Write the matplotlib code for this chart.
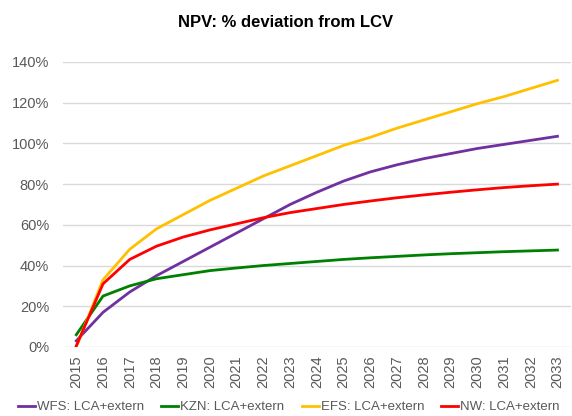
import matplotlib.pyplot as plt
from matplotlib.ticker import FuncFormatter

years = list(range(2015, 2034))

wfs = [3, 17, 27, 35, 42, 49, 56, 63, 70, 76, 81.5, 86, 89.5, 92.5, 95, 97.5, 99.5, 101.5, 103.5]
kzn = [6, 25, 30, 33.5, 35.5, 37.5, 38.8, 40, 41, 42, 43, 43.8, 44.5, 45.2, 45.8, 46.3, 46.8, 47.2, 47.6]
efs = [0, 33, 48, 58, 65, 72, 78, 84, 89, 94, 99, 103, 107.5, 111.5, 115.5, 119.5, 123, 127, 131]
nw = [0.5, 31, 43, 49.5, 54, 57.5, 60.5, 63.5, 66, 68, 70, 71.7, 73.3, 74.7, 76, 77.2, 78.3, 79.2, 80]

series = [
    ("WFS: LCA+extern", wfs, "#7030A0"),
    ("KZN: LCA+extern", kzn, "#008000"),
    ("EFS: LCA+extern", efs, "#FFC000"),
    ("NW: LCA+extern", nw, "#FF0000"),
]

plt.rcParams["font.family"] = ["Liberation Sans", "DejaVu Sans"]
text_color = "#595959"

fig = plt.figure(figsize=(5.72, 4.16), dpi=100)
ax = fig.add_axes([0.110, 0.166, 0.888, 0.685])

for name, vals, color in series:
    ax.plot(years, [v / 100 for v in vals], color=color, lw=2, label=name)

ax.set_xlim(2014.5, 2033.5)
ax.set_ylim(0, 1.4)
ax.set_yticks([i * 0.2 for i in range(8)])
ax.yaxis.set_major_formatter(FuncFormatter(lambda v, _: f"{v * 100:.0f}%"))
ax.set_xticks(years)
ax.set_xticklabels([str(y) for y in years], rotation=90)
ax.tick_params(length=0, labelsize=10.5, colors=text_color, pad=6)
ax.tick_params(axis="y", pad=10)
ax.grid(axis="y", color="#D9D9D9", lw=1)
ax.set_axisbelow(True)
for s in ax.spines.values():
    s.set_visible(False)

fig.suptitle("NPV: % deviation from LCV", y=0.965, fontsize=12, fontweight="bold", color="black")

fig.legend(loc="lower center", ncol=4, frameon=False, bbox_to_anchor=(0.505, 0.0),
           borderaxespad=0.1, borderpad=0.1,
           fontsize=9.5, handlelength=1.3, handletextpad=0.15, columnspacing=1.3,
           labelcolor=text_color)

fig.savefig("out.png", dpi=100)
